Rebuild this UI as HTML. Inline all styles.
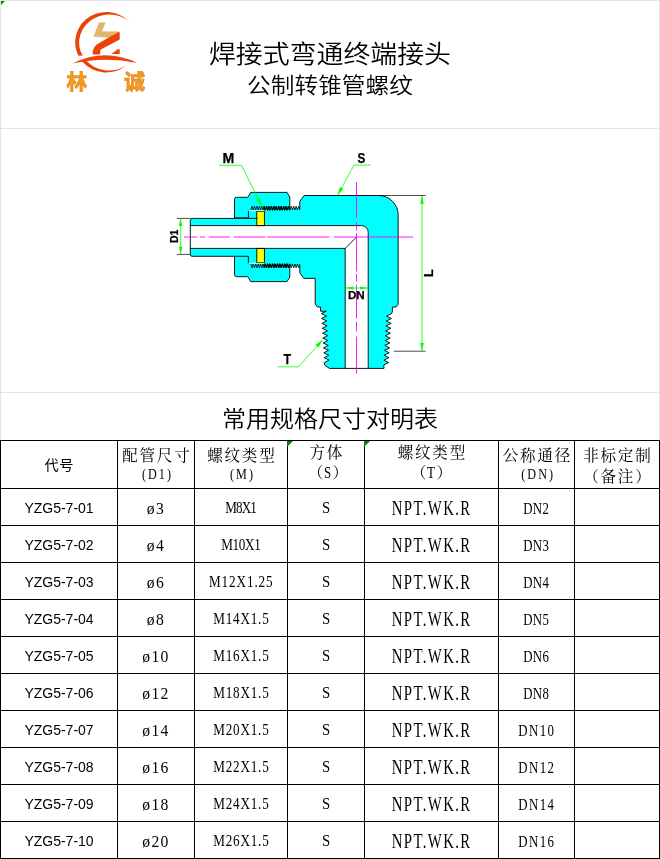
<!DOCTYPE html>
<html lang="zh-CN">
<head>
<meta charset="utf-8">
<title>焊接式弯通终端接头 公制转锥管螺纹</title>
<style>
  html, body { margin: 0; padding: 0; background: #fff; }
  body { width: 660px; height: 859px; position: relative; overflow: hidden;
         font-family: "Liberation Sans", "Noto Sans CJK SC", sans-serif; color: #000; }
  #page { position: absolute; left: 0; top: 0; width: 660px; height: 859px; overflow: hidden; will-change: transform; background: #fff; }
  .abs { position: absolute; }
  /* light spreadsheet gridlines */
  .g { position: absolute; background: #e4e4e4; }
  .tri { position: absolute; width: 0; height: 0; border-style: solid;
         border-width: 5px 5px 0 0; border-color: #008400 transparent transparent transparent; }
  .title1 { position: absolute; left: 0; width: 660px; top: 36.5px; text-align: center;
            font-family: "Liberation Sans", "Noto Sans CJK SC", sans-serif; font-weight: 350;
            font-size: 26.9px; line-height: 36px; letter-spacing: 0; white-space: nowrap; transform: scaleY(.925); }
  .title2 { position: absolute; left: 0; width: 660px; top: 70px; text-align: center;
            font-family: "Liberation Sans", "Noto Sans CJK SC", sans-serif; font-weight: 350;
            font-size: 23.7px; line-height: 32px; letter-spacing: 0; white-space: nowrap; transform: scaleY(.925); }
  .sect   { position: absolute; left: 0; width: 660px; top: 402px; text-align: center;
            font-family: "Liberation Sans", "Noto Sans CJK SC", sans-serif; font-weight: 350;
            font-size: 24px; line-height: 34px; letter-spacing: 0; white-space: nowrap; transform: scaleY(.945); }

  /* table */
  table.spec { position: absolute; left: 0; top: 440px; width: 659px; border-collapse: collapse;
               table-layout: fixed; }
  table.spec td, table.spec th { border: 1px solid #000; padding: 0; text-align: center;
               font-weight: normal; overflow: hidden; white-space: nowrap; }
  /* header cells: SimSun-like serif */
  table.spec th { height: 47px; vertical-align: top;
               font-family: "Liberation Serif", "Noto Serif CJK SC", serif;
               font-size: 15.6px; font-weight: 400; }
  table.spec th span { display: block; position: relative; height: 0; line-height: 20px; letter-spacing: 1.7px; text-indent: 1.7px; }
  table.spec th span.a { top: 5px; }      /* first line  */
  table.spec th span.b { top: 26px; }     /* second line */
  table.spec th.hi span.a { top: 2px; }
  table.spec th.hi span.b { top: 22px; }
  table.spec th span.b i { font-style: normal; display: inline-block; position: relative; top: -3px; transform: scaleX(.78); letter-spacing: 2.6px; font-size: 15.6px; }
  table.spec th.hi span.b { letter-spacing: 0; text-indent: 0; }
  table.spec th.hi span.b i { top: -.5px; letter-spacing: 0; font-size: 16.5px; }
  table.spec th.code { font-family: "Liberation Sans", "Noto Sans CJK SC", sans-serif; font-weight: 400; font-size: 14.2px; }
  table.spec th.code span.a { top: 14px; letter-spacing: .5px; text-indent: .5px; }
  /* body cells */
  table.spec td { height: 36px; line-height: 36px; vertical-align: top;
               font-family: "Liberation Serif", "Noto Serif CJK SC", serif; font-size: 16px; }
  table.spec td span { display: block; position: relative; height: 36px; line-height: 36px; transform: scaleX(.74); white-space: nowrap; }
  table.spec td.code { font-family: "Liberation Sans", sans-serif; font-size: 14px; }
  table.spec td.code span { transform: none; top: 1px; }
  table.spec td:nth-child(2) span { font-size: 17.4px; letter-spacing: 1.5px; text-indent: 0; top: .5px; transform: scaleX(.9); }
  table.spec td:nth-child(3) span { font-size: 16px; letter-spacing: 1.13px; text-indent: .7px; top: 1px; transform: scaleX(.82); }
  table.spec td:nth-child(4) span { font-size: 16px; top: 1px; transform: scaleX(.92); }
  table.spec td:nth-child(5) span { font-size: 20px; letter-spacing: 1.85px; text-indent: .5px; top: 1px; }
  table.spec td:nth-child(6) span { font-size: 17.4px; letter-spacing: .4px; text-indent: -.9px; top: 1px; }
  table.spec td span.c4 { letter-spacing: -1.13px; text-indent: -1.13px; }
  table.spec td span.c5 { letter-spacing: -.4px; text-indent: -.4px; }
  table.spec td span.c7 { letter-spacing: .98px; text-indent: .98px; }
  table.spec td span.d4 { letter-spacing: 1.9px; text-indent: 1px; }
</style>
</head>
<body>
<div id="page">

<!-- spreadsheet light gridlines -->
<div class="g" style="left:0;top:0;width:660px;height:1px"></div>
<div class="g" style="left:0;top:128px;width:660px;height:1px"></div>
<div class="g" style="left:0;top:392px;width:660px;height:1px"></div>
<div class="g" style="left:0;top:0;width:1px;height:440px"></div>
<div class="g" style="left:659px;top:0;width:1px;height:440px"></div>
<div class="tri" style="left:1px;top:1px;border-width:4px 4px 0 0"></div>

<!-- LOGO -->
<svg id="logo" class="abs" style="left:60px;top:5px" width="100" height="100" viewBox="60 5 100 100">
<path fill="#ea4408" d="M130,22.3 A31.3,30.25 0 1 0 126.7,65.3 A30.1,28 0 1 1 130,22.3 Z"/>
<path fill="#fff" d="M72,56.4 Q80,55.4 88,55.6 L88,58 L72,64 Z"/>
<path fill="#ea4408" d="M72.2,63.5 Q105,47.3 137.2,62.9 Q105,56.1 72.2,63.5 Z"/>
<path fill="#e2b56e" stroke="#e2b56e" stroke-width="0.6" stroke-linejoin="round" d="M99.1,22.8 L105.2,22.8 L101.6,31.8 L118.8,31.8 L109.1,37.2 L93.8,36.6 Z"/>
<path fill="#ea4408" d="M118.8,31.9 L119.7,32.6 L119.7,39.5 L100.4,49.8 L100,54.4 L92.7,54.4 Q92.3,48.6 96.7,44.5 L109.1,37.2 Z"/>
<path fill="#ea4408" d="M111.2,53.9 L118.2,49 L119.7,49.3 L119.7,53.9 Z"/>
<g font-family="'Liberation Sans', 'Noto Sans CJK SC', sans-serif" font-weight="700" font-size="21" fill="#fa9a12" stroke="#cf7d1c" stroke-width="0.5">
<text x="66.3" y="88.7">林</text>
<text x="124" y="88.7">诚</text>
</g>
</svg>
<!-- /LOGO -->

<!-- titles -->
<div class="title1">焊接式弯通终端接头</div>
<div class="title2">公制转锥管螺纹</div>

<!-- DRAWING -->
<svg id="drawing" class="abs" style="left:0;top:0" width="660" height="440" viewBox="0 0 660 440" font-family="'Liberation Sans', sans-serif" font-weight="700">
<g fill="#00ffff" stroke="none">
<path d="M258,218.4 L192.1,218.4 Q190.3,218.4 190.3,220.2 L190.3,254.5 Q190.3,256.3 192.1,256.3 L258,256.3 Z"/>
<path d="M234.5,217.6 L234.5,199.5 Q234.5,197.3 236.7,197.3 L247.8,197.3 L250.7,192.4 L287,192.4 L289.8,197 L289.8,209 L248,209 L248,217.6 Z"/>
<path d="M234.5,256.4 L234.5,274.5 Q234.5,276.7 236.7,276.7 L247.8,276.7 L250.7,281.6 L287,281.6 L289.8,277 L289.8,265 L248,265 L248,256.4 Z"/>
<path d="M299.8,208.2 L299.8,201.4 304.2,195.5 378.6,195.5 A19.6,19.6 0 0 1 398.2,215.1 L398.2,304.2 396,307 392.4,307 392.4,311.2 L391.7,313.6 386.5,316.1 391.4,318.5 386.2,321 391.1,323.4 385.9,325.9 390.8,328.3 385.6,330.8 390.4,333.2 385.3,335.7 390.2,338.1 385.1,340.5 389.9,343 384.8,345.4 389.6,347.9 384.5,350.3 389.2,352.8 384.2,355.2 388.9,357.7 383.9,360.1 388.7,362.6 383.8,365 L384,368.4 329.4,368.4 324.6,365 L324.3,362.6 329.1,360.1 324.1,357.7 328.8,355.2 323.8,352.8 328.5,350.3 323.4,347.9 328.2,345.4 323.1,343 327.9,340.5 322.8,338.1 327.7,335.7 322.6,333.2 327.4,330.8 322.2,328.3 327.1,325.9 321.9,323.4 326.8,321 321.6,318.5 326.5,316.1 321.3,313.6 326.2,311.2 L320.6,311.2 320.6,307 317.4,307 315.2,304 315.2,278.4 303.9,278.4 299.8,272.8 299.8,265.8 L247.6,265.8 L247.6,208.2 Z"/>
</g>
<path d="M190.3,225.6 L361.6,225.6 A6.6,6.6 0 0 1 368.2,232.2 L368.2,368.4 L345.2,368.4 L345.2,248.4 L190.3,248.4 Z" fill="#ffffff"/>
<path d="M290.4,196 L290.4,207.6 L299.2,207.6 L299.2,201.2 L303.2,196 Z" fill="#ffffff" opacity="0"/>
<g fill="#ffff00" stroke="#000" stroke-width="0.9">
<rect x="256.8" y="211.3" width="7.6" height="14.3"/>
<rect x="256.8" y="248.4" width="7.6" height="14.3"/>
</g>
<g fill="none" stroke="#000" stroke-width="0.9" stroke-linejoin="round" stroke-linecap="round">
<path d="M256.8,218.4 L192.1,218.4 Q190.3,218.4 190.3,220.2 L190.3,254.5 Q190.3,256.3 192.1,256.3 L248.4,256.3 L248.4,263.6"/>
<path d="M234.5,217.8 L248.4,217.8 L248.4,210.4"/>
<path d="M248.6,210.7 H264.4 M248.6,263.3 H264.4" stroke="#e8ffff" stroke-width="0.9"/>
<path d="M190.3,225.6 L361.6,225.6 A6.6,6.6 0 0 1 368.2,232.2 L368.2,368.4"/>
<path d="M190.3,248.4 L345.2,248.4 L345.2,368.4"/>
<path d="M345.2,248.4 L356.5,237"/>
<path d="M234.5,217.6 L234.5,199.5 Q234.5,197.3 236.7,197.3 L247.8,197.3 L250.7,192.4 L287,192.4 L289.8,197 L289.8,208.6"/>
<path d="M234.5,256.4 L234.5,274.5 Q234.5,276.7 236.7,276.7 L247.8,276.7 L250.7,281.6 L287,281.6 L289.8,277 L289.8,265.4"/>
<path d="M299.8,208.6 L299.8,201.4 L304.2,195.5 L378.6,195.5 A19.6,19.6 0 0 1 398.2,215.1 L398.2,304.2 396,307 392.4,307 392.4,311.2 L391.7,313.6 386.5,316.1 391.4,318.5 386.2,321 391.1,323.4 385.9,325.9 390.8,328.3 385.6,330.8 390.4,333.2 385.3,335.7 390.2,338.1 385.1,340.5 389.9,343 384.8,345.4 389.6,347.9 384.5,350.3 389.2,352.8 384.2,355.2 388.9,357.7 383.9,360.1 388.7,362.6 383.8,365 L384,368.4 329.4,368.4 324.6,365 L324.3,362.6 329.1,360.1 324.1,357.7 328.8,355.2 323.8,352.8 328.5,350.3 323.4,347.9 328.2,345.4 323.1,343 327.9,340.5 322.8,338.1 327.7,335.7 322.6,333.2 327.4,330.8 322.2,328.3 327.1,325.9 321.9,323.4 326.8,321 321.6,318.5 326.5,316.1 321.3,313.6 326.2,311.2 L320.6,311.2 320.6,307 317.4,307 315.2,304 315.2,278.4 303.9,278.4 299.8,272.8 299.8,265.4"/>
</g>
<g fill="none" stroke="#000" stroke-linejoin="miter">
<polyline stroke-width="0.8" points="250.8,210 252,206.2 253.2,210 254.5,206.2 255.7,210 256.9,206.2 258.2,210 259.4,206.2 260.6,210 261.8,206.2 263.1,210 264.3,206.2 265.5,210 266.7,206.2 268,210 269.2,206.2 270.4,210 271.6,206.2 272.9,210 274.1,206.2 275.3,210 276.5,206.2 277.8,210 279,206.2 280.2,210 281.4,206.2 282.7,210 283.9,206.2 285.1,210 286.3,206.2 287.6,210 288.8,206.2 290,210 291.2,206.2 292.5,210 293.7,206.2 294.9,210 296.1,206.2 297.4,210 298.6,206.2 299.8,210"/>
<polyline stroke-width="0.8" points="250.8,264 252,267.8 253.2,264 254.5,267.8 255.7,264 256.9,267.8 258.2,264 259.4,267.8 260.6,264 261.8,267.8 263.1,264 264.3,267.8 265.5,264 266.7,267.8 268,264 269.2,267.8 270.4,264 271.6,267.8 272.9,264 274.1,267.8 275.3,264 276.5,267.8 277.8,264 279,267.8 280.2,264 281.4,267.8 282.7,264 283.9,267.8 285.1,264 286.3,267.8 287.6,264 288.8,267.8 290,264 291.2,267.8 292.5,264 293.7,267.8 294.9,264 296.1,267.8 297.4,264 298.6,267.8 299.8,264"/>
<polyline stroke-width="1" points="263.8,206.4 265,210.4 266.3,206.4 267.5,210.4 268.7,206.4 269.9,210.4 271.2,206.4 272.4,210.4 273.6,206.4 274.8,210.4 276.1,206.4 277.3,210.4 278.5,206.4 279.7,210.4 281,206.4 282.2,210.4 283.4,206.4 284.6,210.4 285.9,206.4 287.1,210.4 288.3,206.4 289.5,210.4"/>
<polyline stroke-width="1" points="263.8,267.6 265,263.6 266.3,267.6 267.5,263.6 268.7,267.6 269.9,263.6 271.2,267.6 272.4,263.6 273.6,267.6 274.8,263.6 276.1,267.6 277.3,263.6 278.5,267.6 279.7,263.6 281,267.6 282.2,263.6 283.4,267.6 284.6,263.6 285.9,267.6 287.1,263.6 288.3,267.6 289.5,263.6"/>
</g>
<g fill="none" stroke="#ff00ff" stroke-width="0.9">
<path d="M184,237 H197.3 M200,237 H205 M208.7,237 H230 M233.8,237 H265.6 M267.2,237 H329.5 M334,237 H413"/>
<path d="M356.5,182.1 V217.6 M356.5,222.8 V230.4 M356.5,233.3 V271.5 M356.5,274.2 V281.4 M356.5,284.6 V318.6 M356.5,321.8 V331.4 M356.5,336.5 V373.5"/>
</g>
<g fill="none" stroke="#000" stroke-width="0.7">
<line x1="177" y1="218.4" x2="190.3" y2="218.4"/>
<line x1="177" y1="254.4" x2="190.3" y2="254.4"/>
<line x1="378.6" y1="195.5" x2="425.6" y2="195.5"/>
<line x1="393.8" y1="351.2" x2="425.6" y2="351.2"/>
</g>
<g fill="none" stroke="#00ff00" stroke-width="0.8">
<line x1="180.6" y1="219" x2="180.6" y2="254"/>
<line x1="422" y1="196" x2="422" y2="351"/>
<line x1="345.5" y1="288" x2="368" y2="288"/>
<polyline points="218.8,165.3 241.5,165.3 262,206.6"/>
<polyline points="370.8,165.1 354,165.1 337.6,195.3"/>
<polyline points="277.6,366.8 298.5,366.8 322.7,339.7"/>
</g>
<g fill="#00ff00" stroke="none">
<polygon points="180.6,218.6 182.3,226.1 178.9,226.1"/>
<polygon points="180.6,254.2 178.9,246.7 182.3,246.7"/>
<polygon points="422,195.7 423.8,203.7 420.2,203.7"/>
<polygon points="422,351 420.2,343 423.8,343"/>
<polygon points="345.4,288 353.4,286.6 353.4,289.4"/>
<polygon points="368,288 360,289.4 360,286.6"/>
<polygon points="262,206.6 256.4,199.9 260,198.1"/>
<polygon points="337.6,195.3 339.9,186.9 343.4,188.8"/>
<polygon points="322.7,339.7 318.5,347.4 315.5,344.7"/>
</g>
<g fill="#000" stroke="#000" stroke-width="0.25">
<text x="222.4" y="162.9" font-size="15" textLength="11.8" lengthAdjust="spacingAndGlyphs">M</text>
<text x="357.6" y="163.4" font-size="14.6" textLength="7.8" lengthAdjust="spacingAndGlyphs">S</text>
<text x="283.4" y="364.4" font-size="14" textLength="7.6" lengthAdjust="spacingAndGlyphs">T</text>
<text x="347.9" y="299" font-size="11.6">DN</text>
<text transform="translate(178.4,243) rotate(-90)" font-size="11.6" textLength="13.4" lengthAdjust="spacingAndGlyphs">D1</text>
<text transform="translate(432.8,277) rotate(-90)" font-size="12.6">L</text>
</g>
</svg>
<!-- /DRAWING -->

<div class="sect">常用规格尺寸对明表</div>

<!-- TABLE -->
<table class="spec">
  <colgroup>
    <col style="width:117px"><col style="width:77px"><col style="width:93px"><col style="width:77px">
    <col style="width:134px"><col style="width:76px"><col style="width:85px">
  </colgroup>
  <thead>
  <tr>
    <th class="code"><span class="a">代号</span></th>
    <th><span class="a">配管尺寸</span><span class="b"><i>(D1)</i></span></th>
    <th><span class="a">螺纹类型</span><span class="b"><i>(M)</i></span></th>
    <th class="hi"><span class="a">方体</span><span class="b" style="left:2px">（<i>S</i>）</span></th>
    <th class="hi"><span class="a">螺纹类型</span><span class="b">（<i>T</i>）</span></th>
    <th><span class="a">公称通径</span><span class="b"><i>(DN)</i></span></th>
    <th><span class="a">非标定制</span><span class="b">（备注）</span></th>
  </tr>
  </thead>
  <tbody>
  <tr><td class="code"><span>YZG5-7-01</span></td><td><span>ø3</span></td><td><span class="c4">M8X1</span></td><td><span>S</span></td><td><span>NPT.WK.R</span></td><td><span>DN2</span></td><td></td></tr>
  <tr><td class="code"><span>YZG5-7-02</span></td><td><span>ø4</span></td><td><span class="c5">M10X1</span></td><td><span>S</span></td><td><span>NPT.WK.R</span></td><td><span>DN3</span></td><td></td></tr>
  <tr><td class="code"><span>YZG5-7-03</span></td><td><span>ø6</span></td><td><span>M12X1.25</span></td><td><span>S</span></td><td><span>NPT.WK.R</span></td><td><span>DN4</span></td><td></td></tr>
  <tr><td class="code"><span>YZG5-7-04</span></td><td><span>ø8</span></td><td><span class="c7">M14X1.5</span></td><td><span>S</span></td><td><span>NPT.WK.R</span></td><td><span>DN5</span></td><td></td></tr>
  <tr><td class="code"><span>YZG5-7-05</span></td><td><span>ø10</span></td><td><span class="c7">M16X1.5</span></td><td><span>S</span></td><td><span>NPT.WK.R</span></td><td><span>DN6</span></td><td></td></tr>
  <tr><td class="code"><span>YZG5-7-06</span></td><td><span>ø12</span></td><td><span class="c7">M18X1.5</span></td><td><span>S</span></td><td><span>NPT.WK.R</span></td><td><span>DN8</span></td><td></td></tr>
  <tr><td class="code"><span>YZG5-7-07</span></td><td><span>ø14</span></td><td><span class="c7">M20X1.5</span></td><td><span>S</span></td><td><span>NPT.WK.R</span></td><td><span class="d4">DN10</span></td><td></td></tr>
  <tr><td class="code"><span>YZG5-7-08</span></td><td><span>ø16</span></td><td><span class="c7">M22X1.5</span></td><td><span>S</span></td><td><span>NPT.WK.R</span></td><td><span class="d4">DN12</span></td><td></td></tr>
  <tr><td class="code"><span>YZG5-7-09</span></td><td><span>ø18</span></td><td><span class="c7">M24X1.5</span></td><td><span>S</span></td><td><span>NPT.WK.R</span></td><td><span class="d4">DN14</span></td><td></td></tr>
  <tr><td class="code"><span>YZG5-7-10</span></td><td><span>ø20</span></td><td><span class="c7">M26X1.5</span></td><td><span>S</span></td><td><span>NPT.WK.R</span></td><td><span class="d4">DN16</span></td><td></td></tr>
  </tbody>
</table>

<div class="tri" style="left:287px;top:441px;border-width:6px 6px 0 0"></div>
<div class="tri" style="left:364px;top:441px;border-width:6px 6px 0 0"></div>

</div>
</body>
</html>
